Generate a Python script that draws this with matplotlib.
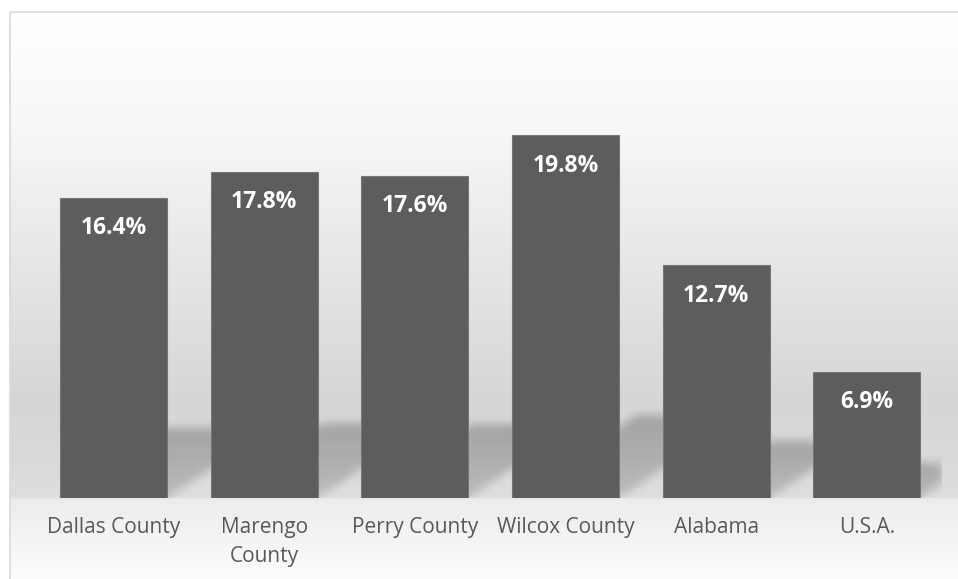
import numpy as np
import matplotlib.pyplot as plt
from matplotlib.patches import Rectangle

categories = ['Dallas County', 'Marengo\nCounty', 'Perry County',
              'Wilcox County', 'Alabama', 'U.S.A.']
values = [16.4, 17.8, 17.6, 19.8, 12.7, 6.9]

W, H = 958, 579
BAR_W = 0.711
Y_MAX = 25

plt.rcParams['font.family'] = ['Open Sans', 'DejaVu Sans']

fig = plt.figure(figsize=(W / 100, H / 100), dpi=100)

# ── chart area: vertical grey gradient + thin border ─────────────────────────
bg = fig.add_axes([0, 0, 1, 1], zorder=0)
bg.axis('off')
stop_y = [11, 120, 250, 400, 460, 497, 500, 579]
stop_v = [255, 248, 232, 214, 218, 222, 236, 252]
gy = np.linspace(11, H, 600)
shade = np.interp(gy, stop_y, stop_v) / 255
grad = np.repeat(shade[:, None], 2, axis=1)
bg.imshow(np.dstack([grad] * 3), extent=(10, W + 5, H, 11),
          aspect='auto', interpolation='bilinear')
bg.set_xlim(0, W)
bg.set_ylim(H, 0)
bg.add_patch(Rectangle((10.5, 11.5), W, H, fill=False,
                       ec='#d9d9d9', lw=1.2))

# ── plot area ────────────────────────────────────────────────────────────────
ax = fig.add_axes([38.25 / W, 81 / H, 904 / W, 458 / H], zorder=1)
ax.set_facecolor('none')
x = np.arange(len(values))
x_lo, x_hi = -0.5, len(values) - 0.5

# soft perspective shadows cast up and to the right of each bar
nx, ny = 904, 458
px_x = (x_hi - x_lo) / nx
px_y = Y_MAX / ny
X, Y = np.meshgrid(x_lo + (np.arange(nx) + 0.5) * px_x,
                   (np.arange(ny) + 0.5) * px_y)
mask = np.zeros((ny, nx))
for xi, v in zip(x, values):
    sh_px = 0.2 * v / px_y + 10
    sh = sh_px * px_y
    dx = 1.5 * sh_px * px_x
    t = Y / sh
    inside = ((Y <= sh) & (X >= xi - BAR_W / 2 + t * dx)
              & (X <= xi + BAR_W / 2 + t * dx))
    mask = np.maximum(mask, inside * (0.65 + 0.35 * np.clip(t, 0, 1)))

r = np.arange(-14, 15)
kern = np.exp(-r ** 2 / (2 * 4.5 ** 2))
kern /= kern.sum()
soft = np.apply_along_axis(lambda c: np.convolve(c, kern, mode='same'), 0, mask)
soft = np.apply_along_axis(lambda c: np.convolve(c, kern, mode='same'), 1, soft)
shadow = np.zeros((ny, nx, 4))
shadow[..., 3] = soft * 0.24
ax.imshow(shadow, extent=(x_lo, x_hi, 0, Y_MAX), origin='lower',
          aspect='auto', interpolation='bilinear', zorder=1)

ax.bar(x, values, width=BAR_W, color='#5d5d5d', edgecolor='#777777',
       linewidth=0.8, zorder=2)

for xi, v in zip(x, values):
    ax.annotate(f'{v}%', (xi, v), xytext=(0, -22), textcoords='offset points',
                ha='center', va='center', color='white', fontweight='bold',
                fontsize=16.5, zorder=3)

ax.set_xlim(x_lo, x_hi)
ax.set_ylim(0, Y_MAX)
ax.set_xticks(x, categories)
ax.set_yticks([])
ax.tick_params(axis='x', length=0, pad=14, labelsize=15, labelcolor='#595959')
for lbl in ax.get_xticklabels():
    lbl.set_linespacing(1.45)
for s in ax.spines.values():
    s.set_visible(False)

fig.savefig('out.png', dpi=100)
